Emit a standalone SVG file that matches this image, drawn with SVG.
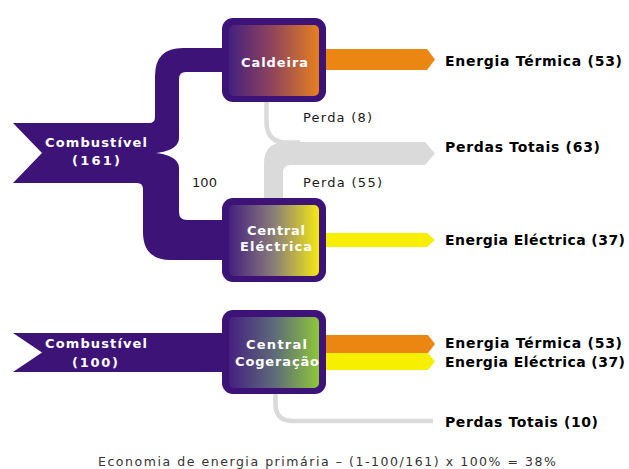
<svg xmlns="http://www.w3.org/2000/svg" width="629" height="469" viewBox="0 0 629 469">
  <style>
    .purple { fill: #3d1378; }
    .orange { fill: #ec8612; }
    .yellow { fill: #f7ef00; }
    .gray { fill: #dadada; }
    .grayline { fill: none; stroke: #dadada; stroke-width: 4.5; }
    .boxtxt { font-family: "DejaVu Sans", Verdana, sans-serif; font-weight: bold; font-size: 13px; fill: #ffffff; text-anchor: middle; }
    .lbl { font-family: "DejaVu Sans", Verdana, sans-serif; font-weight: bold; font-size: 14px; fill: #000000; }
    .small { font-family: "DejaVu Sans", Verdana, sans-serif; font-size: 13px; fill: #1a1a1a; }
    .foot { font-family: "DejaVu Sans", Verdana, sans-serif; font-size: 12.5px; fill: #333333; }
  </style>
  <defs>
    <linearGradient id="gCald" x1="0" y1="0" x2="1" y2="0">
      <stop offset="0" stop-color="#45207f"/>
      <stop offset="0.5" stop-color="#93465a"/>
      <stop offset="1" stop-color="#e5801f"/>
    </linearGradient>
    <linearGradient id="gElec" x1="0" y1="0" x2="1" y2="0">
      <stop offset="0" stop-color="#45207f"/>
      <stop offset="0.5" stop-color="#8a7e78"/>
      <stop offset="1" stop-color="#f3e914"/>
    </linearGradient>
    <linearGradient id="gCog" x1="0" y1="0" x2="1" y2="0">
      <stop offset="0" stop-color="#45207f"/>
      <stop offset="0.5" stop-color="#5e6a7a"/>
      <stop offset="1" stop-color="#8dc63a"/>
    </linearGradient>
  </defs>

  <rect width="629" height="469" fill="#ffffff"/>

  <g id="connectors">
    <!-- top scenario fuel split -->
    <path class="purple" d="M13,123 H149 Q155,123 155,117 V76 Q155,48 183,48 H226 V72 H186 Q179,72 179,79 V138 C179,148 166,152 156,153 C166,154 179,158 179,168 V212 Q179,220 187,220 H226 V260 H171 Q143,260 143,232 V189 Q143,183 137,183 H13 L42,153 Z"/>
    <!-- outputs top -->
    <path class="orange" d="M320,49 H427 L435,59.5 L427,70 H320 Z"/>
    <path class="yellow" d="M320,233 H427 L435,240 L427,247 H320 Z"/>
    <!-- losses top -->
    <path class="gray" d="M264,204 V164 Q264,142 286,142 H425 L435,153.5 L425,165 H291 Q283,165 283,173 V204 Z"/>
    <path class="grayline" d="M266.5,100 V122 Q266.5,142.5 287,142.5 H300"/>
    <!-- bottom scenario -->
    <path class="purple" d="M13,333 H226 V372 H13 L42,352.5 Z"/>
    <path class="orange" d="M320,335 H428 L435,344 L428,353 H320 Z"/>
    <path class="yellow" d="M320,353 H428 L435,361.5 L428,370 H320 Z"/>
    <path class="grayline" d="M275.5,390 V404 Q275.5,421 293,421 H433"/>
  </g>

  <g id="node-combustivel-161">
    <text class="boxtxt" x="96" y="147" textLength="102" lengthAdjust="spacing">Combustível</text>
    <text class="boxtxt" x="96" y="165" textLength="48" lengthAdjust="spacing">(161)</text>
  </g>

  <g id="node-caldeira">
    <rect class="purple" x="222" y="18" width="104" height="84" rx="11"/>
    <rect x="229" y="25" width="90" height="71" rx="5" fill="url(#gCald)"/>
    <text class="boxtxt" x="274.5" y="67" textLength="67" lengthAdjust="spacing">Caldeira</text>
  </g>

  <g id="node-central-electrica">
    <rect class="purple" x="222" y="198" width="104" height="84" rx="11"/>
    <rect x="229" y="205" width="90" height="71" rx="5" fill="url(#gElec)"/>
    <text class="boxtxt" x="276" y="235" textLength="58" lengthAdjust="spacing">Central</text>
    <text class="boxtxt" x="276" y="251" textLength="72" lengthAdjust="spacing">Eléctrica</text>
  </g>

  <g id="node-combustivel-100">
    <text class="boxtxt" x="96" y="348" textLength="102" lengthAdjust="spacing">Combustível</text>
    <text class="boxtxt" x="95" y="367" textLength="46" lengthAdjust="spacing">(100)</text>
  </g>

  <g id="node-cogeracao">
    <rect class="purple" x="222" y="310" width="104" height="84" rx="11"/>
    <rect x="229" y="317" width="90" height="71" rx="5" fill="url(#gCog)"/>
    <text class="boxtxt" x="276.5" y="349" textLength="61" lengthAdjust="spacing">Central</text>
    <text class="boxtxt" x="277" y="366" textLength="84" lengthAdjust="spacing">Cogeração</text>
  </g>

  <g id="labels">
    <text class="small" x="192" y="187" textLength="25" lengthAdjust="spacing">100</text>
    <text class="small" x="303" y="122" textLength="69" lengthAdjust="spacing">Perda (8)</text>
    <text class="small" x="303" y="187" textLength="79" lengthAdjust="spacing">Perda (55)</text>
  </g>

  <g id="node-energia-termica-1">
    <text class="lbl" x="445" y="66" textLength="177" lengthAdjust="spacing">Energia Térmica (53)</text>
  </g>
  <g id="node-perdas-totais-1">
    <text class="lbl" x="445" y="152" textLength="155" lengthAdjust="spacing">Perdas Totais (63)</text>
  </g>
  <g id="node-energia-electrica-1">
    <text class="lbl" x="445" y="245" textLength="180" lengthAdjust="spacing">Energia Eléctrica (37)</text>
  </g>
  <g id="node-energia-termica-2">
    <text class="lbl" x="445" y="348" textLength="177" lengthAdjust="spacing">Energia Térmica (53)</text>
  </g>
  <g id="node-energia-electrica-2">
    <text class="lbl" x="445" y="367" textLength="180" lengthAdjust="spacing">Energia Eléctrica (37)</text>
  </g>
  <g id="node-perdas-totais-2">
    <text class="lbl" x="445" y="427" textLength="153" lengthAdjust="spacing">Perdas Totais (10)</text>
  </g>

  <g id="footer">
    <text class="foot" x="98" y="466" textLength="458" lengthAdjust="spacing">Economia de energia primária – (1-100/161) x 100% = 38%</text>
  </g>
</svg>
